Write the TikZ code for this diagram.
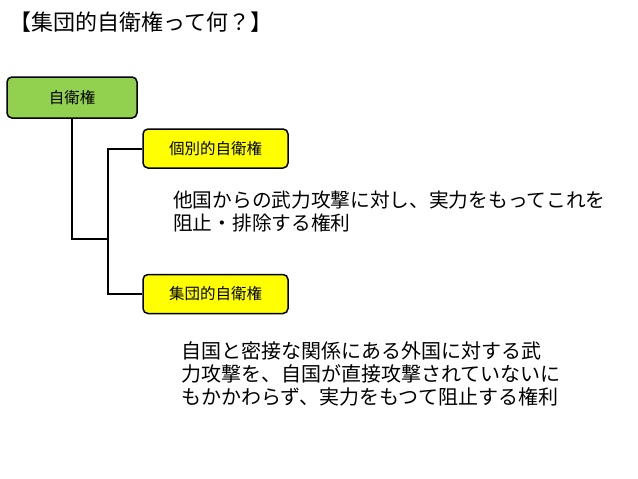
\documentclass[tikz,border=0pt]{standalone}
\usepackage{fontspec}
\newfontfamily\cjk{Noto Sans CJK JP}
\definecolor{rootgreen}{HTML}{92D050}
\definecolor{leafyellow}{HTML}{FFFF00}
\tikzset{
    rightbox/.style={draw=black, line width=1.5pt, rounded corners=5pt,
        minimum height=40pt, inner sep=0pt,
        font={\cjk\fontsize{15.5}{17}\selectfont}},
    desctext/.style={anchor=west, align=left, inner sep=0pt},
    branch/.style={line width=2pt}
}
\begin{document}
\begin{tikzpicture}[x=1pt,y=-1pt]
    \useasboundingbox[fill=white] (0,0) rectangle (638,479);

    % Title
    \node[anchor=west, inner sep=0pt, font={\cjk\fontsize{22}{24}\selectfont}]
        (title) at (9,22) {【集団的自衛権って何？】};

    % Boxes of the tree
    \node[rightbox, fill=rootgreen, minimum width=130pt, minimum height=41pt]
        (root) at (72,97.5) {自衛権};
    \node[rightbox, fill=leafyellow, minimum width=145pt, minimum height=39pt]
        (indiv) at (215.5,148.5) {個別的自衛権};
    \node[rightbox, fill=leafyellow, minimum width=145pt, minimum height=39pt]
        (coll) at (215.5,294) {集団的自衛権};

    % Branch lines
    \coordinate (fork) at (108,239);
    \draw[branch] (root.south) |- (fork);
    \draw[branch] (indiv.west) -| (fork) |- (coll.west);

    % Descriptions
    \node[desctext, font={\cjk\fontsize{19.7}{23.5}\selectfont}]
        (indivtext) at (173,211.5)
        {他国からの武力攻撃に対し、実力をもってこれを\\阻止・排除する権利};
    \node[desctext, font={\cjk\fontsize{20}{23.3}\selectfont}]
        (colltext) at (181,374)
        {自国と密接な関係にある外国に対する武\\力攻撃を、自国が直接攻撃されていないに\\もかかわらず、実力をもつて阻止する権利};
\end{tikzpicture}
\end{document}
